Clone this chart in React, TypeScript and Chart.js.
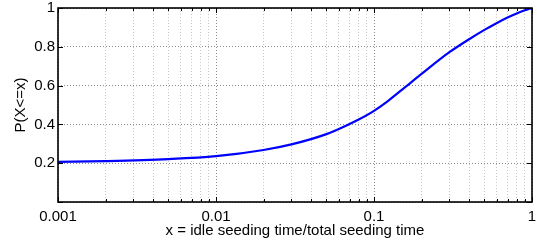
import React, { useEffect, useRef } from "react";
import { Chart, registerables } from "chart.js";

Chart.register(...registerables);

const xValues = [0.001, 0.002, 0.005, 0.01, 0.02, 0.03, 0.05, 0.07, 0.08, 0.1, 0.12, 0.15, 0.2, 0.3, 0.4, 0.5, 0.6, 0.7, 0.8, 0.9, 1.0];
const cdfValues = [0.207, 0.211, 0.221, 0.236, 0.268, 0.297, 0.35, 0.402, 0.425, 0.47, 0.515, 0.578, 0.66, 0.772, 0.839, 0.887, 0.923, 0.951, 0.972, 0.988, 1.0];
const xTickValues = [
  0.001, 0.002, 0.003, 0.004, 0.005, 0.006, 0.007, 0.008, 0.009,
  0.01, 0.02, 0.03, 0.04, 0.05, 0.06, 0.07, 0.08, 0.09,
  0.1, 0.2, 0.3, 0.4, 0.5, 0.6, 0.7, 0.8, 0.9, 1,
];
const xMajorLabels = ["0.001", "0.01", "0.1", "1"];
const yTickValues = [0, 0.2, 0.4, 0.6, 0.8, 1];
const yTickLabels = ["", "0.2", "0.4", "0.6", "0.8", "1"];
const xTitle = "x = idle seeding time/total seeding time";
const yTitle = "P(X<=x)";

const FONT = "'Liberation Sans', Arial, Helvetica, sans-serif";
const FS = 15;

const isMajor = (v: number) => {
  const l = Math.log10(v);
  return Math.abs(l - Math.round(l)) < 1e-6;
};

const boxPlugin = {
  id: "matlabBox",
  afterDatasetsDraw(chart: any) {
    const { ctx, chartArea } = chart;
    const { left, right, top, bottom } = chartArea;
    const xs = chart.scales.x;
    const ys = chart.scales.y;
    ctx.save();
    ctx.strokeStyle = "#000";
    ctx.lineWidth = 1;
    ctx.beginPath();
    xs.ticks.forEach((t: any) => {
      const px = Math.round(xs.getPixelForValue(t.value)) + 0.5;
      const len = isMajor(t.value) ? 5 : 3;
      ctx.moveTo(px, bottom);
      ctx.lineTo(px, bottom - len);
      ctx.moveTo(px, top);
      ctx.lineTo(px, top + len);
    });
    ys.ticks.forEach((t: any) => {
      const py = Math.round(ys.getPixelForValue(t.value)) + 0.5;
      ctx.moveTo(left, py);
      ctx.lineTo(left + 5, py);
      ctx.moveTo(right, py);
      ctx.lineTo(right - 5, py);
    });
    ctx.stroke();
    ctx.lineWidth = 1.6;
    ctx.strokeRect(left, top, right - left, bottom - top);
    ctx.restore();
  },
};

export default function App() {
  const ref = useRef<HTMLCanvasElement | null>(null);

  useEffect(() => {
    document.body.style.margin = "0";
    const canvas = ref.current;
    if (!canvas) return;
    const chart = new Chart(canvas, {
      type: "line",
      data: {
        datasets: [
          {
            data: xValues.map((x, i) => ({ x, y: cdfValues[i] })),
            borderColor: "#0000ff",
            borderWidth: 2.2,
            pointRadius: 0,
            fill: false,
            cubicInterpolationMode: "monotone",
          },
        ],
      },
      options: {
        responsive: false,
        animation: false,
        events: [],
        layout: { padding: { top: 8, right: 5, left: 0, bottom: 0 } },
        plugins: { legend: { display: false }, tooltip: { enabled: false } },
        scales: {
          x: {
            type: "logarithmic",
            min: 0.001,
            max: 1,
            afterBuildTicks: (s: any) => {
              s.ticks = xTickValues.map((value) => ({ value }));
            },
            afterFit: (s: any) => {
              s.height = 38;
              s.paddingLeft = 0;
              s.paddingRight = 0;
            },
            ticks: {
              autoSkip: false,
              maxRotation: 0,
              padding: 6,
              color: "#000",
              font: { family: FONT, size: FS },
              callback: (v: any) => {
                const i = [0.001, 0.01, 0.1, 1].findIndex((m) => Math.abs(m - v) < 1e-9);
                return i >= 0 ? xMajorLabels[i] : "";
              },
            },
            grid: {
              drawTicks: false,
              lineWidth: 1,
              color: (c: any) => (c.tick && isMajor(c.tick.value) ? "#8a8a8a" : "#c4c4c4"),
            },
            border: { display: false, dash: [1, 2] },
            title: {
              display: true,
              text: xTitle,
              color: "#000",
              font: { family: FONT, size: FS },
              padding: { top: 1, bottom: 0 },
            },
          },
          y: {
            type: "linear",
            min: 0,
            max: 1,
            afterBuildTicks: (s: any) => {
              s.ticks = yTickValues.map((value) => ({ value }));
            },
            afterFit: (s: any) => {
              s.width = 58;
              s.paddingTop = 0;
              s.paddingBottom = 0;
            },
            ticks: {
              padding: 3,
              color: "#000",
              font: { family: FONT, size: FS },
              callback: (v: any) => {
                const i = yTickValues.findIndex((m) => Math.abs(m - v) < 1e-9);
                return i >= 0 ? yTickLabels[i] : "";
              },
            },
            grid: { drawTicks: false, lineWidth: 1, color: "#8a8a8a" },
            border: { display: false, dash: [1, 2] },
            title: {
              display: true,
              text: yTitle,
              color: "#000",
              font: { family: FONT, size: FS },
              padding: { top: 12, bottom: 0 },
            },
          },
        },
      },
      plugins: [boxPlugin],
    } as any);
    return () => chart.destroy();
  }, []);

  return (
    <div style={{ position: "absolute", left: 0, top: 0, width: 537, height: 240, background: "#fff" }}>
      <canvas ref={ref} width={537} height={240} style={{ display: "block" }} />
    </div>
  );
}
